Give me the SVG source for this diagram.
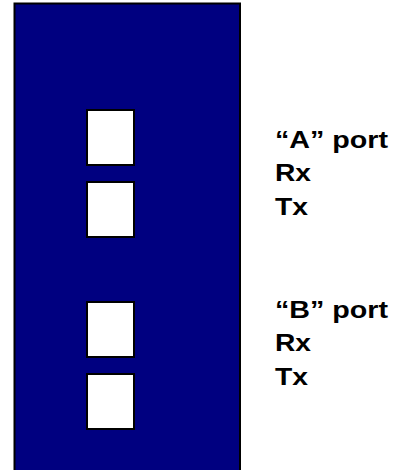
<svg xmlns="http://www.w3.org/2000/svg" width="399" height="470" viewBox="0 0 399 470">
<style>
.body{fill:#000080;stroke:#000;stroke-width:2}
.port{fill:#fff;stroke:#000;stroke-width:2}
.lbl{font-family:"Liberation Sans",Arial,sans-serif;font-weight:bold;font-size:23px;fill:#000}
</style>
<rect width="399" height="470" fill="#fff"/>
<g id="chassis"><rect class="body" x="14.5" y="3.5" width="225.5" height="480"/></g>
<g id="portA-rx"><rect class="port" x="87" y="110" width="47" height="55"/></g>
<g id="portA-tx"><rect class="port" x="87" y="182" width="47" height="55"/></g>
<g id="portB-rx"><rect class="port" x="87" y="302" width="47" height="55"/></g>
<g id="portB-tx"><rect class="port" x="87" y="374" width="47" height="55"/></g>
<g id="labelA">
<text class="lbl" x="275" y="148" textLength="113" lengthAdjust="spacingAndGlyphs">“A” port</text>
<text class="lbl" x="275" y="181" textLength="36" lengthAdjust="spacingAndGlyphs">Rx</text>
<text class="lbl" x="275" y="215" textLength="33" lengthAdjust="spacingAndGlyphs">Tx</text>
</g>
<g id="labelB">
<text class="lbl" x="275" y="318" textLength="113" lengthAdjust="spacingAndGlyphs">“B” port</text>
<text class="lbl" x="275" y="351" textLength="36" lengthAdjust="spacingAndGlyphs">Rx</text>
<text class="lbl" x="275" y="385" textLength="33" lengthAdjust="spacingAndGlyphs">Tx</text>
</g>
<g id="connectors"/>
</svg>
